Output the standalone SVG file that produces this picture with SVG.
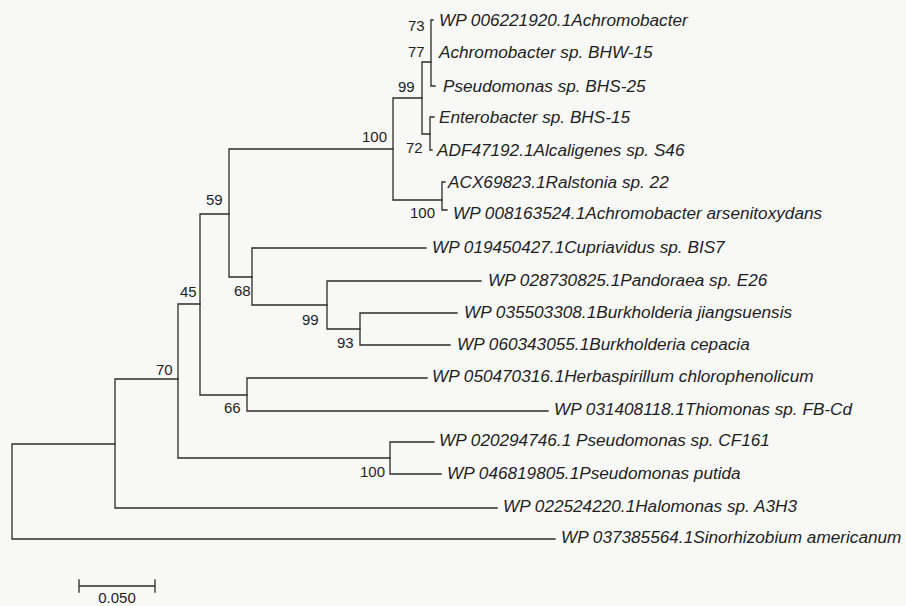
<svg xmlns="http://www.w3.org/2000/svg" width="906" height="606" viewBox="0 0 906 606">
<style>
.br{fill:none;stroke:#2b2b2b;stroke-width:1.3;stroke-linecap:square}
.lf{font-family:"Liberation Sans",Arial,sans-serif;font-style:italic;font-size:17.2px;fill:#1e1e1e}
.bs{font-family:"Liberation Sans",Arial,sans-serif;font-size:15px;fill:#1e1e1e}
</style>
<rect width="906" height="606" fill="#f8f8f6"/>
<g id="connectors" class="br">
<path d="M12 444 V539 H555 M12 444 H115"/>
<path d="M115 379 V508 H497 M115 379 H178"/>
<path d="M178 304 V458 H390 M178 304 H200"/>
<path d="M200 214 V395 H247 M200 214 H229"/>
<path d="M229 149 V277 H252 M229 149 H393"/>
<path d="M252 248 V305 H327 M252 248 H426"/>
<path d="M327 281 V329 H360 M327 281 H481"/>
<path d="M360 313 V345 H450 M360 313 H457"/>
<path d="M247 378 V411 H548 M247 378 H427"/>
<path d="M390 442 V474 H441 M390 442 H434"/>
<path d="M393 98 V200 H442 M393 98 H422"/>
<path d="M422 62 V134 H430 M422 62 H431"/>
<path d="M433 20 H431 V86 H435"/>
<path d="M434 117 H430 V150 H432"/>
<path d="M445 182 H442 V210 H447"/>
</g>
<g id="leaves">
<g id="leaf1"><text class="lf" x="439" y="26">WP 006221920.1Achromobacter</text></g>
<g id="leaf2"><text class="lf" x="439" y="58">Achromobacter sp. BHW-15</text></g>
<g id="leaf3"><text class="lf" x="443" y="92">Pseudomonas sp. BHS-25</text></g>
<g id="leaf4"><text class="lf" x="439" y="123">Enterobacter sp. BHS-15</text></g>
<g id="leaf5"><text class="lf" x="437" y="156">ADF47192.1Alcaligenes sp. S46</text></g>
<g id="leaf6"><text class="lf" x="448" y="188">ACX69823.1Ralstonia sp. 22</text></g>
<g id="leaf7"><text class="lf" x="453" y="219">WP 008163524.1Achromobacter arsenitoxydans</text></g>
<g id="leaf8"><text class="lf" x="432" y="253">WP 019450427.1Cupriavidus sp. BIS7</text></g>
<g id="leaf9"><text class="lf" x="488" y="286">WP 028730825.1Pandoraea sp. E26</text></g>
<g id="leaf10"><text class="lf" x="464" y="318">WP 035503308.1Burkholderia jiangsuensis</text></g>
<g id="leaf11"><text class="lf" x="457" y="350">WP 060343055.1Burkholderia cepacia</text></g>
<g id="leaf12"><text class="lf" x="432" y="382">WP 050470316.1Herbaspirillum chlorophenolicum</text></g>
<g id="leaf13"><text class="lf" x="554" y="415">WP 031408118.1Thiomonas sp. FB-Cd</text></g>
<g id="leaf14"><text class="lf" x="439" y="446">WP 020294746.1 Pseudomonas sp. CF161</text></g>
<g id="leaf15"><text class="lf" x="447" y="479">WP 046819805.1Pseudomonas putida</text></g>
<g id="leaf16"><text class="lf" x="503" y="512">WP 022524220.1Halomonas sp. A3H3</text></g>
<g id="leaf17"><text class="lf" x="561" y="543">WP 037385564.1Sinorhizobium americanum</text></g>
</g>
<g id="bootstrap" class="bs">
<text x="408" y="31">73</text>
<text x="408" y="57">77</text>
<text x="398" y="92">99</text>
<text x="406" y="153">72</text>
<text x="362" y="142">100</text>
<text x="410" y="218">100</text>
<text x="206" y="205">59</text>
<text x="180" y="297">45</text>
<text x="234" y="296">68</text>
<text x="302" y="325">99</text>
<text x="337" y="348">93</text>
<text x="156" y="375">70</text>
<text x="224" y="413">66</text>
<text x="360" y="477">100</text>
</g>
<g id="scalebar">
<path class="br" d="M79 580 V592 M79 586 H155 M155 580 V592"/>
<text class="bs" x="117" y="603" text-anchor="middle">0.050</text>
</g>
</svg>
